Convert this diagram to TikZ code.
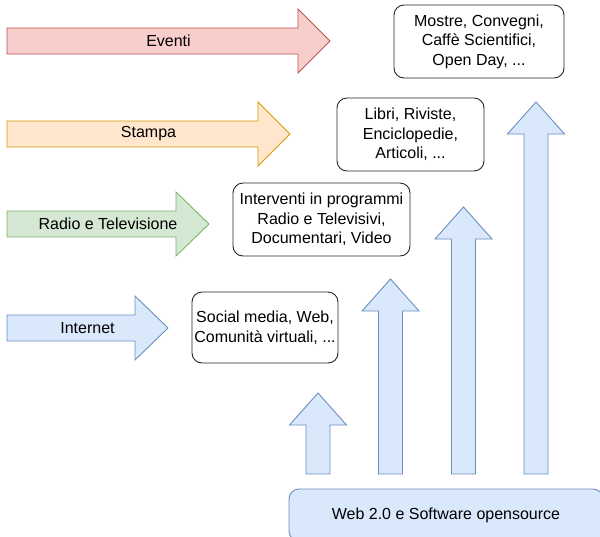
\documentclass[tikz,border=0pt]{standalone}
\usepackage{fontspec}
\setmainfont{Liberation Sans}
\usepackage{tikz}
\usepackage{xcolor}

\definecolor{redfill}{HTML}{F8CECC}
\definecolor{redline}{HTML}{B85450}
\definecolor{orangefill}{HTML}{FFE6CC}
\definecolor{orangeline}{HTML}{D79B00}
\definecolor{greenfill}{HTML}{D5E8D4}
\definecolor{greenline}{HTML}{82B366}
\definecolor{bluefill}{HTML}{DAE8FC}
\definecolor{blueline}{HTML}{6C8EBF}

% right arrow: style, x start, x head, x tip, y middle
\newcommand{\rightarr}[5]{%
  \draw[#1] (#2,#5-13) -- (#3,#5-13) -- (#3,#5-32) -- (#4,#5)
    -- (#3,#5+32) -- (#3,#5+13) -- (#2,#5+13) -- cycle;}
% up arrow: style, x middle, y bottom, y head, y tip
\newcommand{\uparr}[5]{%
  \draw[#1] (#2-12,#3) -- (#2-12,#4) -- (#2-28.5,#4) -- (#2,#5)
    -- (#2+28.5,#4) -- (#2+12,#4) -- (#2+12,#3) -- cycle;}

\begin{document}
\begin{tikzpicture}[x=1pt, y=-1pt,
  txt/.style={font=\fontsize{16}{19.5}\selectfont},
  box/.style={draw=black!85, fill=white, rounded corners=10pt, align=center,
    inner sep=0pt, line width=0.9pt, txt},
  redarr/.style={fill=redfill, draw=redline, line width=0.9pt},
  orangearr/.style={fill=orangefill, draw=orangeline, line width=0.9pt},
  greenarr/.style={fill=greenfill, draw=greenline, line width=0.9pt},
  bluearr/.style={fill=bluefill, draw=blueline, line width=0.9pt}]

  \useasboundingbox (0,0) rectangle (600,536);
  \clip (0,0) rectangle (600,536);

  % horizontal arrows
  \rightarr{redarr}{7}{298}{330}{41}
  \rightarr{orangearr}{7}{258}{290}{134}
  \rightarr{greenarr}{7}{176}{209}{224}
  \rightarr{bluearr}{7}{135}{168}{328}

  \node[txt] (eventi) at (168.5, 41) {Eventi};
  \node[txt] (stampa) at (148.5, 134) {Stampa};
  \node[txt] (radio) at (108, 224) {Radio e Televisione};
  \node[txt] (internet) at (87.5, 328) {Internet};

  % up arrows
  \uparr{bluearr}{318}{474}{425}{393}
  \uparr{bluearr}{390.5}{474}{311}{279}
  \uparr{bluearr}{463.5}{474}{239}{207}
  \uparr{bluearr}{536}{474}{134}{102}

  % boxes
  \node[box, minimum width=146pt, minimum height=71pt] (social) at (265, 327.5)
    {Social media, Web,\\Comunità virtuali, ...};
  \node[box, minimum width=177pt, minimum height=73pt] (interventi) at (321.5, 219.5)
    {Interventi in programmi\\Radio e Televisivi,\\Documentari, Video};
  \node[box, minimum width=147pt, minimum height=73pt] (libri) at (410.5, 134.5)
    {Libri, Riviste,\\Enciclopedie,\\Articoli, ...};
  \node[box, minimum width=170pt, minimum height=73pt] (mostre) at (479, 41.5)
    {Mostre, Convegni,\\Caffè Scientifici,\\Open Day, ...};

  \node[box, fill=bluefill, draw=blueline, minimum width=314pt, minimum height=52pt]
    (web) at (446, 515) {Web 2.0 e Software opensource};

\end{tikzpicture}
\end{document}
